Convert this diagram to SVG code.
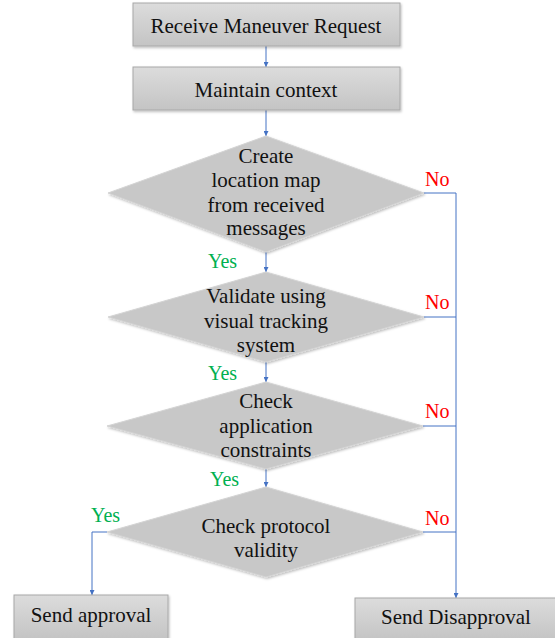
<svg xmlns="http://www.w3.org/2000/svg" width="555" height="638" viewBox="0 0 555 638" font-family="Liberation Serif, Times New Roman, serif">
<defs>
<linearGradient id="g" x1="0" y1="0" x2="0" y2="1">
<stop offset="0" stop-color="#dcdcdc"/>
<stop offset="1" stop-color="#c4c4c4"/>
</linearGradient>
<marker id="a" viewBox="0 0 10 10" refX="10" refY="5" markerWidth="5" markerHeight="5" orient="auto">
<path d="M0,0 L10,5 L0,10 z" fill="#4472c4"/>
</marker>
<filter id="s" x="-10%" y="-10%" width="125%" height="130%">
<feDropShadow dx="1" dy="1.5" stdDeviation="1" flood-color="#000" flood-opacity="0.25"/>
</filter>
</defs>
<style>
.box{fill:url(#g);stroke:#a8a8a8;stroke-width:1;filter:url(#s)}
.dia{fill:#c8c8c8;stroke:#d4d4d4;stroke-width:1;filter:url(#s)}
.t{font-size:21px;fill:#111;text-anchor:middle}
.yes{font-size:20px;fill:#00b050}
.no{font-size:20px;fill:#ff0000}
.c{fill:none;stroke:#4472c4;stroke-width:1}
</style>
<g id="connectors">
<line class="c" x1="266" y1="46" x2="266" y2="67" marker-end="url(#a)"/>
<line class="c" x1="266" y1="110" x2="266" y2="136" marker-end="url(#a)"/>
<line class="c" x1="266" y1="252" x2="266" y2="272" marker-end="url(#a)"/>
<line class="c" x1="266" y1="362" x2="266" y2="382" marker-end="url(#a)"/>
<line class="c" x1="266" y1="469" x2="266" y2="487" marker-end="url(#a)"/>
<polyline class="c" points="107,532 92,532 92,595" marker-end="url(#a)"/>
<polyline class="c" points="424,193 456,193 456,598" marker-end="url(#a)"/>
<line class="c" x1="424" y1="317" x2="456" y2="317"/>
<line class="c" x1="423" y1="426" x2="456" y2="426"/>
<line class="c" x1="423" y1="532" x2="456" y2="532"/>
<text class="no" x="425" y="186">No</text>
<text class="no" x="425" y="309">No</text>
<text class="no" x="425" y="418">No</text>
<text class="no" x="425" y="525">No</text>
<text class="yes" x="208" y="268">Yes</text>
<text class="yes" x="208" y="380">Yes</text>
<text class="yes" x="210" y="486">Yes</text>
<text class="yes" x="91" y="522">Yes</text>
</g>
<g id="receive">
<rect class="box" x="133" y="3" width="267" height="43"/>
<text class="t" x="266" y="33">Receive Maneuver Request</text>
</g>
<g id="maintain">
<rect class="box" x="133" y="67" width="267" height="43"/>
<text class="t" x="266" y="97">Maintain context</text>
</g>
<g id="create">
<polygon class="dia" points="266,136 424,193 266,252 108,193"/>
<text class="t" x="266" y="163">Create</text>
<text class="t" x="266" y="187">location map</text>
<text class="t" x="266" y="212">from received</text>
<text class="t" x="266" y="235">messages</text>
</g>
<g id="validate">
<polygon class="dia" points="266,272 424,317 266,362 108,317"/>
<text class="t" x="266" y="303">Validate using</text>
<text class="t" x="266" y="328">visual tracking</text>
<text class="t" x="266" y="352">system</text>
</g>
<g id="constraints">
<polygon class="dia" points="266,382 423,426 266,469 107,426"/>
<text class="t" x="266" y="408">Check</text>
<text class="t" x="266" y="433">application</text>
<text class="t" x="266" y="457">constraints</text>
</g>
<g id="protocol">
<polygon class="dia" points="266,487 423,532 266,577 107,532"/>
<text class="t" x="266" y="533">Check protocol</text>
<text class="t" x="266" y="557">validity</text>
</g>
<g id="approval">
<rect class="box" x="14" y="595" width="154" height="44"/>
<text class="t" x="91" y="622">Send approval</text>
</g>
<g id="disapproval">
<rect class="box" x="355" y="598" width="202" height="42"/>
<text class="t" x="456" y="624">Send Disapproval</text>
</g>
</svg>
